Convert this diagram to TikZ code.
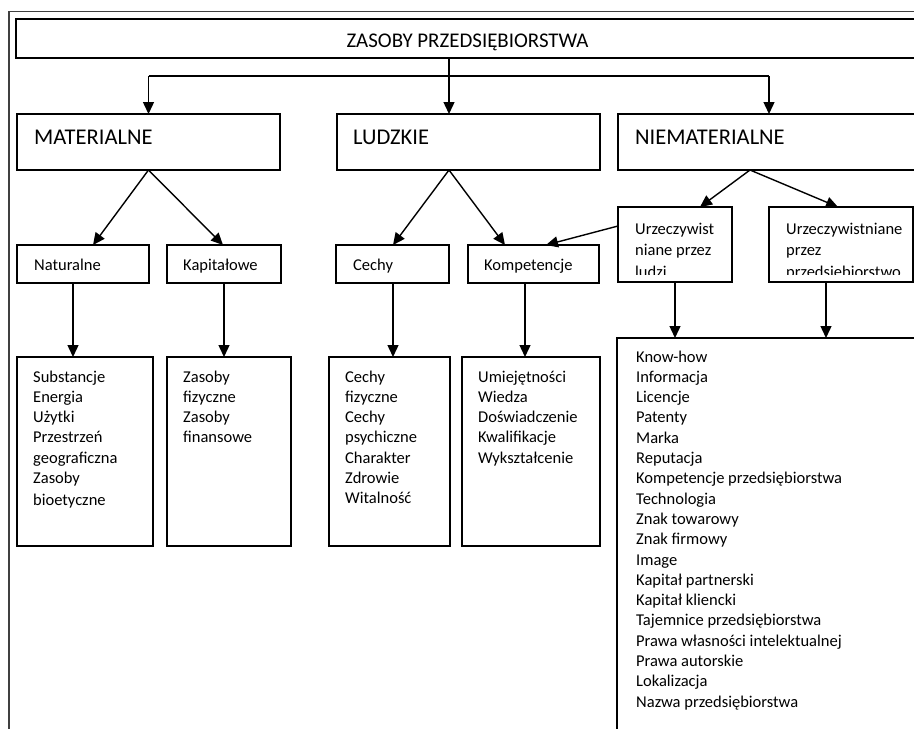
\documentclass[tikz,border=0pt]{standalone}
\usepackage{fontspec}
\setmainfont{Carlito}
\usetikzlibrary{arrows.meta,calc}
\begin{document}
\begin{tikzpicture}[x=1pt,y=-1pt,
  box/.style={draw,line width=1.4pt,inner sep=0pt,outer sep=0pt,anchor=north west},
  arr/.style={line width=1.4pt,-{Triangle[length=12pt,width=11pt]}},
  ln/.style={line width=1.4pt},
  frame/.style={line width=1.3pt,draw=black!75},
  small/.style={font=\fontsize{16.5}{20.3}\selectfont,inner sep=0pt,anchor=base west},
  big/.style={font=\fontsize{22.5}{27}\selectfont,inner sep=0pt,anchor=base west},
  headfont/.style={font=\fontsize{20.9}{25}\selectfont,inner sep=0pt,anchor=base}]
\useasboundingbox (0,0) rectangle (914,729);
\fill[white] (0,0) rectangle (914,729);
\clip (0,0) rectangle (914,729);
% outer frame
\draw[frame] (9,740) -- (9,11.5) -- (930,11.5);
% boxes
\node[box,minimum width=904pt,minimum height=39pt] (head) at (16,19) {};
\node[box,minimum width=263pt,minimum height=56pt] (mat) at (17,114) {};
\node[box,minimum width=263pt,minimum height=56pt] (lud) at (337,114) {};
\node[box,minimum width=302pt,minimum height=56pt] (nie) at (618,114) {};
\node[box,minimum width=132pt,minimum height=38pt] (nat) at (17,245) {};
\node[box,minimum width=114pt,minimum height=38pt] (kap) at (167,245) {};
\node[box,minimum width=113pt,minimum height=38pt] (cec) at (336,245) {};
\node[box,minimum width=131pt,minimum height=38pt] (kom) at (468,245) {};
\node[box,minimum width=114pt,minimum height=75pt] (ul) at (618,207) {};
\node[box,minimum width=144pt,minimum height=75pt] (up) at (769,207) {};
\node[box,minimum width=136pt,minimum height=189pt] (lnat) at (17,357) {};
\node[box,minimum width=124pt,minimum height=189pt] (lkap) at (167,357) {};
\node[box,minimum width=121pt,minimum height=189pt] (lcec) at (329,357) {};
\node[box,minimum width=138pt,minimum height=189pt] (lkom) at (462,357) {};
\node[box,minimum width=320pt,minimum height=420pt] (lnie) at (617,338) {};
% texts
\node[headfont] (thead) at (467.5,47.7) {ZASOBY PRZEDSIĘBIORSTWA};
\node[big] (tmat) at (34,144) {MATERIALNE};
\node[big] (tlud) at (353,144) {LUDZKIE};
\node[big] (tnie) at (635,144) {NIEMATERIALNE};
\node[small] (tnat) at (34,270) {Naturalne};
\node[small] (tkap) at (183,270) {Kapitałowe};
\node[small] (tcec) at (353,270) {Cechy};
\node[small] (tkom) at (484,270) {Kompetencje};
\begin{scope}
\clip (619,208) rectangle (731,274.5);
\node[small] (tul) at (635,234) {\begin{tabular}[t]{@{}l@{}}Urzeczywist\\[1.2pt] niane przez\\[1.2pt] ludzi\end{tabular}};
\end{scope}
\begin{scope}
\clip (770,208) rectangle (912,274.5);
\node[small] (tup) at (786,234) {\begin{tabular}[t]{@{}l@{}}Urzeczywistniane\\[1.2pt] przez\\[1.2pt] przedsiębiorstwo\end{tabular}};
\end{scope}
\node[small] (tlnat) at (33,382) {\begin{tabular}[t]{@{}l@{}}Substancje\\ Energia\\ Użytki\\ Przestrzeń\\ geograficzna\\ Zasoby\\[2pt] bioetyczne\end{tabular}};
\node[small] (tlkap) at (183,382) {\begin{tabular}[t]{@{}l@{}}Zasoby\\ fizyczne\\ Zasoby\\ finansowe\end{tabular}};
\node[small] (tlcec) at (345,382) {\begin{tabular}[t]{@{}l@{}}Cechy\\ fizyczne\\ Cechy\\ psychiczne\\ Charakter\\ Zdrowie\\ Witalność\end{tabular}};
\node[small] (tlkom) at (478,382) {\begin{tabular}[t]{@{}l@{}}Umiejętności\\ Wiedza\\ Doświadczenie\\ Kwalifikacje\\ Wykształcenie\end{tabular}};
\node[small] (tlnie) at (636,362) {\begin{tabular}[t]{@{}l@{}}Know-how\\ Informacja\\ Licencje\\ Patenty\\ Marka\\ Reputacja\\ Kompetencje przedsiębiorstwa\\ Technologia\\ Znak towarowy\\ Znak firmowy\\ Image\\ Kapitał partnerski\\ Kapitał kliencki\\ Tajemnice przedsiębiorstwa\\ Prawa własności intelektualnej\\ Prawa autorskie\\ Lokalizacja\\ Nazwa przedsiębiorstwa\end{tabular}};
% connectors: top level
\coordinate (hs) at ($(head.south west)+(433,0)$);
\coordinate (split) at ($(hs)+(0,18)$);
\coordinate (ludin) at ($(lud.north west)+(112,0)$);
\coordinate (niein) at ($(nie.north west)+(151,0)$);
\draw[ln] (hs) -- (split);
\draw[ln] (mat.north |- split) -- (niein |- split);
\draw[arr] (mat.north |- split) -- (mat.north);
\draw[arr] (split) -- (ludin);
\draw[arr] (niein |- split) -- (niein);
% second level
\coordinate (ludout) at ($(lud.south west)+(112,0)$);
\coordinate (nieout) at ($(nie.south west)+(132,0)$);
\draw[arr] (mat.south) -- ($(nat.north west)+(76,0)$);
\draw[arr] (mat.south) -- ($(kap.north west)+(56,0)$);
\draw[arr] (ludout) -- ($(cec.north west)+(57,0)$);
\draw[arr] (ludout) -- ($(kom.north west)+(37,0)$);
\draw[arr] (nieout) -- ($(ul.north west)+(82,0)$);
\draw[arr] (nieout) -- ($(up.north west)+(69,0)$);
\draw[arr] ($(ul.north west)+(0,19)$) -- ($(kom.north west)+(78,0)$);
% third level
\draw[arr] ($(nat.south west)+(56,0)$) -- ($(lnat.north west)+(56,0)$);
\draw[arr] ($(kap.south west)+(57,0)$) -- ($(lkap.north west)+(57,0)$);
\draw[arr] ($(cec.south west)+(57,0)$) -- ($(lcec.north west)+(64,0)$);
\draw[arr] ($(kom.south west)+(57,0)$) -- ($(lkom.north west)+(63,0)$);
\draw[arr] ($(ul.south west)+(57,0)$) -- ($(lnie.north west)+(58,0)$);
\draw[arr] ($(up.south west)+(57,0)$) -- ($(lnie.north west)+(209,0)$);
\end{tikzpicture}
\end{document}
